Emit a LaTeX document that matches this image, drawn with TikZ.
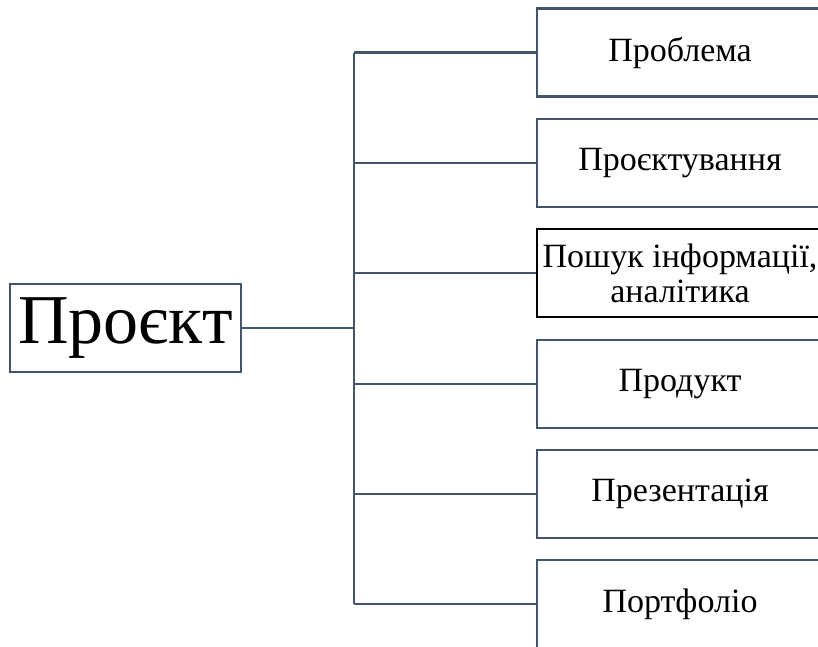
\documentclass[tikz,border=0pt]{standalone}
\usepackage{fontspec}
\setmainfont{Liberation Serif}
\definecolor{slate}{HTML}{44546A}
\begin{document}
\begin{tikzpicture}[x=1pt,y=-1pt,
  line/.style={draw=slate,line width=2.2pt},
  item/.style={draw=slate,line width=2.2pt,minimum width=286pt,minimum height=88pt,inner sep=0pt,
    font=\fontsize{34}{35}\selectfont,align=center},
  rootbox/.style={draw=slate,line width=2.2pt,minimum width=231pt,minimum height=88pt,inner sep=0pt,
    font=\fontsize{70}{72}\selectfont}]
\path[use as bounding box,clip] (0,0) rectangle (818,646);
\node[rootbox] (root) at (125.5,328) {Проєкт};
\node[item] (b1) at (680,52.5) {Проблема};
\node[item] (b2) at (680,163) {Проєктування};
\node[item,draw=black] (b3) at (680,273) {Пошук інформації,\\аналітика};
\node[item] (b4) at (680,384) {Продукт};
\node[item] (b5) at (680,494) {Презентація};
\node[item] (b6) at (680,604) {Портфоліо};
\coordinate (tm) at (354,328);
\coordinate (t1) at (354,52.5);
\coordinate (t2) at (354,163);
\coordinate (t3) at (354,273);
\coordinate (t4) at (354,384);
\coordinate (t5) at (354,494);
\coordinate (t6) at (354,604);
\draw[line] (root.east) -- (tm);
\draw[line] (t1) -- (t6);
\foreach \i in {1,...,6} {\draw[line] (t\i) -- (b\i.west);}
\end{tikzpicture}
\end{document}
